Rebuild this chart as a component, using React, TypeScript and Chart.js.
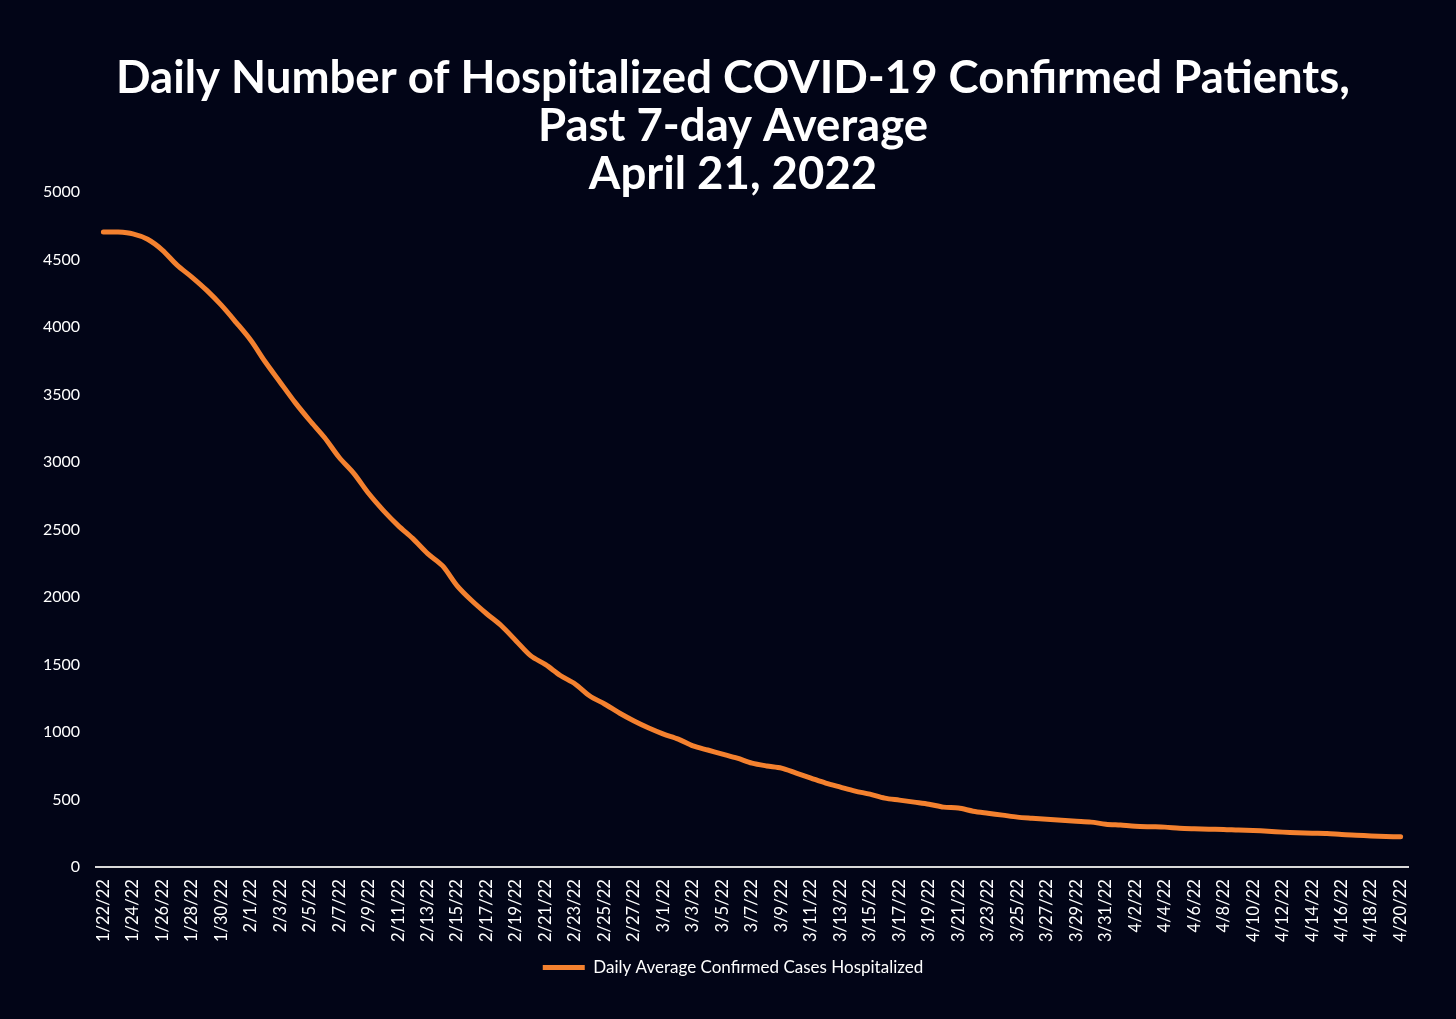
import React, { useEffect, useRef } from "react";
import { Chart, registerables } from "chart.js";

Chart.register(...registerables);

const titleLines = [
  "Daily Number of Hospitalized COVID-19 Confirmed Patients,",
  "Past 7-day Average",
  "April 21, 2022",
];

const seriesName = "Daily Average Confirmed Cases Hospitalized";

const dates = [
  "1/22/22", "1/23/22", "1/24/22", "1/25/22", "1/26/22", "1/27/22", "1/28/22", "1/29/22", "1/30/22", "1/31/22",
  "2/1/22", "2/2/22", "2/3/22", "2/4/22", "2/5/22", "2/6/22", "2/7/22", "2/8/22", "2/9/22", "2/10/22",
  "2/11/22", "2/12/22", "2/13/22", "2/14/22", "2/15/22", "2/16/22", "2/17/22", "2/18/22", "2/19/22", "2/20/22",
  "2/21/22", "2/22/22", "2/23/22", "2/24/22", "2/25/22", "2/26/22", "2/27/22", "2/28/22",
  "3/1/22", "3/2/22", "3/3/22", "3/4/22", "3/5/22", "3/6/22", "3/7/22", "3/8/22", "3/9/22", "3/10/22",
  "3/11/22", "3/12/22", "3/13/22", "3/14/22", "3/15/22", "3/16/22", "3/17/22", "3/18/22", "3/19/22", "3/20/22",
  "3/21/22", "3/22/22", "3/23/22", "3/24/22", "3/25/22", "3/26/22", "3/27/22", "3/28/22", "3/29/22", "3/30/22",
  "3/31/22",
  "4/1/22", "4/2/22", "4/3/22", "4/4/22", "4/5/22", "4/6/22", "4/7/22", "4/8/22", "4/9/22", "4/10/22",
  "4/11/22", "4/12/22", "4/13/22", "4/14/22", "4/15/22", "4/16/22", "4/17/22", "4/18/22", "4/19/22", "4/20/22",
];

const hospitalized = [
  4703, 4703, 4690, 4650, 4570, 4458, 4370, 4273, 4162, 4035,
  3902, 3739, 3590, 3442, 3308, 3182, 3034, 2915, 2767, 2641,
  2530, 2433, 2322, 2233, 2084, 1973, 1877, 1788, 1676, 1565,
  1500, 1420, 1357, 1268, 1209, 1142, 1083, 1031,
  986, 949, 898, 868, 838, 808, 771, 750, 734, 697,
  660, 623, 593, 564, 541, 512, 497, 482, 467, 445,
  438, 415, 400, 386, 371, 363, 356, 348, 341, 334,
  319,
  312, 304, 300, 297, 289, 285, 282, 280, 275, 272,
  267, 260, 255, 252, 250, 242, 237, 232, 228, 225,
];

const yTicks = { min: 0, max: 5000, step: 500 };

const BG = "#020517";
const ORANGE = "#F4812F";

export default function App() {
  const ref = useRef<HTMLCanvasElement | null>(null);

  useEffect(() => {
    if (!ref.current) return;
    const chart = new Chart(ref.current, {
      type: "line",
      data: {
        labels: dates,
        datasets: [
          {
            label: seriesName,
            data: hospitalized,
            borderColor: ORANGE,
            backgroundColor: ORANGE,
            borderWidth: 5,
            borderCapStyle: "round",
            borderJoinStyle: "round",
            pointRadius: 0,
            pointHoverRadius: 0,
            tension: 0.3,
            fill: false,
          },
        ],
      },
      options: {
        responsive: false,
        animation: false,
        devicePixelRatio: 1,
        layout: { padding: { left: 43, right: 33, top: 0, bottom: 33 } },
        plugins: {
          tooltip: { enabled: false },
          title: {
            display: true,
            text: titleLines,
            color: "#ffffff",
            font: { family: "Lato", size: 45.5, weight: "bold", lineHeight: 48 / 45.5 },
            padding: { top: 54, bottom: -6 },
          },
          legend: {
            display: true,
            position: "bottom",
            labels: {
              color: "#ffffff",
              font: { family: "Lato", size: 17 },
              usePointStyle: true,
              pointStyle: "line",
              pointStyleWidth: 42,
              padding: 5,
            },
          },
        },
        scales: {
          x: {
            type: "category",
            offset: true,
            grid: { display: false, drawTicks: false },
            border: { display: true, color: "#D9D9D9", width: 2 },
            ticks: {
              color: "#ffffff",
              font: { family: "Lato", size: 16.5 },
              autoSkip: false,
              minRotation: 90,
              maxRotation: 90,
              padding: 12,
              callback: (_v: any, i: number) => (i % 2 === 0 ? dates[i] : ""),
            },
          },
          y: {
            min: yTicks.min,
            max: yTicks.max,
            grid: { display: false, drawTicks: false },
            border: { display: false },
            afterFit: (scale: any) => {
              scale.width = 53;
            },
            ticks: {
              stepSize: yTicks.step,
              color: "#ffffff",
              font: { family: "Lato", size: 16 },
              padding: 16,
              callback: (v: any) => String(v),
            },
          },
          spacer: {
            type: "linear",
            position: "right",
            display: true,
            grid: { display: false, drawTicks: false },
            border: { display: false },
            ticks: { display: false },
            afterFit: (scale: any) => {
              scale.width = 15;
            },
          },
        },
      },
    });
    return () => chart.destroy();
  }, []);

  return (
    <div
      style={{
        position: "fixed",
        left: 0,
        top: 0,
        width: 1456,
        height: 1019,
        background: BG,
      }}
    >
      <canvas ref={ref} width={1456} height={1019} style={{ display: "block" }} />
    </div>
  );
}
